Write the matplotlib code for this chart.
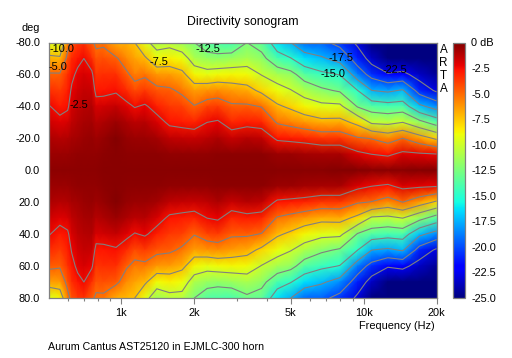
import numpy as np
import matplotlib
matplotlib.use("Agg")
import matplotlib.pyplot as plt

plt.rcParams["font.family"] = ["Liberation Sans", "DejaVu Sans"]

# values
freqs = [500, 557, 600, 624, 660, 700, 755, 786, 843, 950, 1050, 1135, 1250, 1400, 1580, 1780, 2000,
         2260, 2500, 2850, 3300, 3790, 4400, 5000, 5700, 6700, 7980, 9450, 10800, 12600, 14500, 17000, 20000]
angles = [-80, -70, -60, -50, -40, -30, -20, -10, 0, 10, 20, 30, 40, 50, 60, 70, 80]

# one list per frequency, -80 deg to +80 deg
db_by_freq = [
    [-9.5, -7.0, -4.8, -3.5, -2.4, -1.7, -1.0, -0.6, -0.3, -0.6, -1.0, -1.7, -2.4, -3.4, -4.6, -6.5, -9.6],
    [-9.5, -7.2, -4.8, -3.9, -3.0, -2.1, -1.2, -0.6, -0.3, -0.6, -1.2, -2.1, -3.0, -3.9, -4.8, -6.4, -8.8],
    [-5.8, -4.4, -3.6, -3.1, -2.7, -1.9, -1.1, -0.6, -0.3, -0.6, -1.1, -1.9, -2.7, -3.1, -3.6, -4.4, -5.6],
    [-4.3, -3.4, -2.8, -2.3, -1.8, -1.4, -0.9, -0.5, -0.3, -0.5, -0.9, -1.4, -1.9, -2.4, -2.9, -3.5, -4.4],
    [-3.8, -2.9, -2.2, -1.8, -1.4, -1.1, -0.8, -0.4, -0.3, -0.4, -0.8, -1.1, -1.4, -1.8, -2.2, -2.9, -3.8],
    [-3.6, -2.5, -1.9, -1.5, -1.2, -0.9, -0.6, -0.4, -0.3, -0.4, -0.6, -0.9, -1.2, -1.5, -1.9, -2.5, -3.6],
    [-4.7, -3.5, -2.2, -1.6, -1.1, -0.8, -0.5, -0.4, -0.3, -0.4, -0.5, -0.8, -1.1, -1.6, -2.3, -3.6, -4.7],
    [-5.4, -4.4, -3.7, -2.9, -1.9, -1.2, -0.7, -0.4, -0.3, -0.4, -0.7, -1.2, -1.9, -2.9, -3.7, -4.4, -5.3],
    [-5.3, -4.3, -3.5, -2.9, -1.8, -1.0, -0.5, -0.3, -0.2, -0.3, -0.5, -1.0, -1.8, -2.9, -3.5, -4.3, -5.3],
    [-6.8, -4.8, -3.5, -2.7, -1.5, -0.6, -0.1, -0.2, -0.2, -0.2, -0.1, -0.6, -1.5, -2.7, -3.5, -4.6, -6.8],
    [-7.0, -5.9, -4.7, -3.4, -2.1, -1.0, -0.5, -0.3, -0.2, -0.3, -0.5, -1.0, -2.1, -3.4, -4.8, -6.0, -7.2],
    [-7.5, -6.6, -5.6, -4.2, -2.6, -1.3, -0.6, -0.3, -0.2, -0.3, -0.6, -1.3, -2.6, -4.2, -5.5, -6.6, -7.5],
    [-9.4, -7.2, -5.3, -3.8, -2.3, -1.2, -0.6, -0.3, -0.2, -0.3, -0.6, -1.2, -2.3, -3.9, -5.4, -7.2, -9.2],
    [-11.0, -8.9, -6.3, -4.5, -3.1, -1.9, -0.8, -0.3, -0.2, -0.3, -0.8, -1.9, -3.1, -4.5, -6.3, -8.9, -11.5],
    [-10.7, -8.6, -6.4, -4.7, -3.8, -2.8, -1.4, -0.4, -0.2, -0.4, -1.4, -2.8, -3.8, -4.7, -6.4, -8.6, -10.7],
    [-11.5, -9.0, -7.0, -5.4, -4.0, -3.0, -1.5, -0.4, -0.2, -0.4, -1.5, -3.0, -4.0, -5.3, -7.0, -9.0, -10.7],
    [-12.5, -11.0, -8.8, -6.5, -4.9, -3.2, -1.6, -0.4, -0.2, -0.4, -1.6, -3.2, -4.9, -6.5, -8.8, -11.0, -12.5],
    [-13.7, -11.7, -9.2, -6.2, -4.1, -2.5, -1.3, -0.4, -0.2, -0.4, -1.4, -2.5, -4.1, -6.2, -9.2, -11.7, -13.7],
    [-13.9, -11.9, -8.9, -6.0, -3.9, -2.3, -1.0, -0.3, -0.2, -0.3, -1.0, -2.3, -3.9, -6.0, -8.9, -11.9, -13.9],
    [-14.2, -11.6, -8.8, -6.4, -4.7, -3.3, -1.6, -0.3, -0.2, -0.3, -1.6, -3.3, -4.7, -6.4, -8.8, -11.6, -14.0],
    [-12.5, -11.1, -8.9, -6.8, -4.7, -3.0, -1.2, -0.3, -0.2, -0.3, -1.2, -3.0, -4.7, -6.8, -8.9, -11.1, -12.9],
    [-13.4, -11.9, -10.1, -8.0, -5.1, -3.2, -1.4, -0.3, -0.2, -0.3, -1.4, -3.2, -5.1, -8.0, -10.1, -11.9, -13.4],
    [-16.3, -14.0, -11.2, -9.1, -7.2, -5.2, -2.8, -0.6, -0.2, -0.6, -2.8, -5.2, -7.2, -9.1, -11.2, -14.0, -16.3],
    [-17.5, -14.9, -11.8, -9.9, -7.9, -5.7, -3.0, -0.6, -0.2, -0.6, -3.0, -5.7, -7.9, -9.9, -11.8, -14.9, -17.5],
    [-19.3, -16.4, -13.6, -11.0, -8.8, -6.3, -3.2, -0.8, -0.2, -0.8, -3.2, -6.3, -8.8, -11.0, -13.6, -16.4, -19.3],
    [-19.5, -17.2, -14.5, -12.1, -9.4, -6.9, -3.7, -0.9, -0.2, -0.9, -3.7, -6.9, -9.4, -12.1, -14.5, -17.2, -19.5],
    [-20.7, -18.4, -15.1, -12.8, -9.5, -6.8, -3.7, -0.9, -0.1, -0.9, -3.7, -6.8, -9.5, -12.8, -15.1, -18.4, -20.7],
    [-23.0, -21.1, -18.8, -15.0, -12.7, -8.1, -4.8, -2.0, -0.1, -2.0, -4.8, -8.1, -12.7, -15.0, -18.8, -21.1, -23.0],
    [-25.0, -23.5, -20.8, -17.5, -13.7, -10.4, -5.1, -2.5, -0.2, -2.5, -5.1, -10.4, -13.7, -17.5, -20.8, -23.5, -25.0],
    [-25.0, -25.0, -22.3, -17.9, -14.1, -10.6, -6.0, -2.8, -0.2, -2.8, -6.0, -10.6, -14.1, -17.9, -22.3, -25.0, -25.0],
    [-25.0, -25.0, -21.9, -17.3, -13.9, -10.0, -5.0, -2.0, -0.2, -2.0, -5.0, -10.0, -13.9, -17.3, -21.9, -25.0, -25.0],
    [-25.0, -25.0, -23.5, -21.0, -17.0, -11.8, -6.4, -2.2, -0.1, -2.2, -6.4, -11.8, -17.0, -21.0, -23.5, -25.0, -25.0],
    [-25.0, -25.0, -24.5, -22.9, -18.5, -13.6, -7.9, -2.4, -0.1, -2.4, -7.9, -13.6, -18.5, -22.9, -24.5, -25.0, -25.0],
]

contour_levels = [-22.5, -20, -17.5, -15, -12.5, -10, -7.5, -5, -2.5]
angle_ticks = [-80, -60, -40, -20, 0, 20, 40, 60, 80]
freq_ticks = [1000, 2000, 5000, 10000, 20000]
freq_labels = ["1k", "2k", "5k", "10k", "20k"]
freq_minor = [600, 700, 800, 900, 3000, 4000, 6000, 7000, 8000, 9000]
bar_ticks = [0, -2.5, -5, -7.5, -10, -12.5, -15, -17.5, -20, -22.5, -25]
bar_labels = ["0 dB", "-2.5", "-5.0", "-7.5", "-10.0", "-12.5", "-15.0", "-17.5", "-20.0", "-22.5", "-25.0"]

W, H = 512, 358
GREY = "#808080"
FS = 7.9


def px_text(x, y, s, size=FS, **kw):
    fig.text(x / W, 1 - y / H, s, fontsize=size, color="black", va="center", **kw)


fig = plt.figure(figsize=(W / 100, H / 100), dpi=100, facecolor="white")
ax = fig.add_axes([48.5 / W, 1 - 298 / H, 388 / W, 255.5 / H])
cax = fig.add_axes([453 / W, 1 - 298 / H, 11.5 / W, 255.5 / H])

z = np.array(db_by_freq).T
mesh = ax.pcolormesh(freqs, angles, z, shading="gouraud", cmap="jet", vmin=-25, vmax=0)
ax.contour(freqs, angles, z, levels=contour_levels, colors=GREY, linewidths=0.8, linestyles="solid")

ax.set_xscale("log")
ax.set_xlim(500, 20000)
ax.set_ylim(80, -80)
ax.set_yticks(angle_ticks)
ax.set_yticklabels([f"{a:.1f}" for a in angle_ticks], fontsize=FS)
ax.set_xticks(freq_ticks)
ax.set_xticklabels(freq_labels, fontsize=FS)
ax.set_xticks(freq_minor, minor=True)
ax.set_xticklabels([], minor=True)
ax.tick_params(axis="y", length=0, pad=6)
ax.tick_params(axis="x", which="major", length=4, width=0.8, color=GREY, pad=3)
ax.tick_params(axis="x", which="minor", length=2.5, width=0.8, color=GREY)
for sp in ax.spines.values():
    sp.set_color(GREY)
    sp.set_linewidth(0.9)

cb = fig.colorbar(mesh, cax=cax)
cb.set_ticks(bar_ticks)
cb.set_ticklabels(bar_labels, fontsize=FS)
cb.ax.tick_params(length=0, pad=5)
cb.outline.set_edgecolor(GREY)
cb.outline.set_linewidth(0.9)

px_text(242.5, 22, "Directivity sonogram", size=8.8, ha="center")
px_text(40, 28, "deg", ha="right")
px_text(435, 326, "Frequency (Hz)", ha="right")
px_text(48, 347, "Aurum Cantus AST25120 in EJMLC-300 horn", size=7.65, ha="left")
for y, s in zip([50, 63, 76, 89], "ARTA"):
    px_text(443.5, y, s, size=8.4, ha="center")

# contour labels sit where ARTA put them, not on the lines
px_text(50, 49, "-10.0", ha="left")
px_text(49, 67, "-5.0", ha="left")
px_text(70, 105, "-2.5", ha="left")
px_text(150, 62, "-7.5", ha="left")
px_text(196, 49, "-12.5", ha="left")
px_text(329, 58, "-17.5", ha="left")
px_text(321, 74, "-15.0", ha="left")
px_text(383, 70, "-22.5", ha="left")

fig.savefig("out.png", dpi=100)
